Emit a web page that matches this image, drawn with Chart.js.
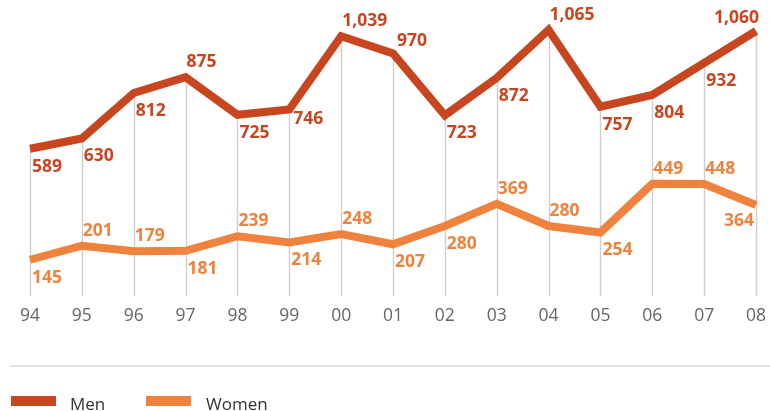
<!DOCTYPE html>
<html>
<head>
<meta charset="utf-8">
<script src="https://cdn.jsdelivr.net/npm/chart.js@4"></script>
<style>
  html, body { margin: 0; padding: 0; background: #fff; overflow: hidden; }
  #wrap { width: 770px; height: 411px; }
</style>
</head>
<body>
<div id="wrap"><canvas id="chart" width="770" height="411"></canvas></div>
<script>
//DATA
var years = ["94", "95", "96", "97", "98", "99", "00", "01", "02", "03", "04", "05", "06", "07", "08"];
var men = [589, 630, 812, 875, 725, 746, 1039, 970, 723, 872, 1065, 757, 804, 932, 1060];
var women = [145, 201, 179, 181, 239, 214, 248, 207, 280, 369, 280, 254, 449, 448, 364];

//COLORS
var menColor = "#c8461f";
var womenColor = "#ef833d";
var gridColor = "#d0d0d0";
var tickColor = "#666666";

// where each value label sits: b = below right, a = above right, r = right, ar = slightly above right, al = above left, bl = below left
var menPlace = ["b", "b", "b", "a", "b", "r", "a", "ar", "b", "b", "a", "b", "b", "b", "al"];
var womenPlace = ["b", "a", "a", "b", "a", "b", "a", "b", "b", "a", "a", "b", "a", "a", "bl"];

function fmt(v) {
  return v.toLocaleString("en-US");
}

// drop lines from the men point down to the axis
var dropLines = {
  id: "dropLines",
  beforeDatasetsDraw: function (chart) {
    var ctx = chart.ctx;
    var y = chart.scales.y;
    var x = chart.scales.x;
    ctx.save();
    ctx.strokeStyle = gridColor;
    ctx.lineWidth = 1.5;
    for (var i = 0; i < years.length; i++) {
      var px = Math.round(x.getPixelForValue(i)) + 0.5;
      ctx.beginPath();
      ctx.moveTo(px, y.getPixelForValue(men[i]));
      ctx.lineTo(px, chart.chartArea.bottom);
      ctx.stroke();
    }
    ctx.restore();
  }
};

// value labels
var valueLabels = {
  id: "valueLabels",
  afterDatasetsDraw: function (chart) {
    var ctx = chart.ctx;
    ctx.save();
    ctx.font = "bold 17.5px 'Open Sans'";
    ctx.textBaseline = "middle";
    var sets = [[men, menPlace, menColor, 0], [women, womenPlace, womenColor, 1]];
    sets.forEach(function (s) {
      var meta = chart.getDatasetMeta(s[3]);
      ctx.fillStyle = s[2];
      for (var i = 0; i < s[0].length; i++) {
        var p = meta.data[i];
        var place = s[1][i];
        var tx = p.x + 2, ty = p.y + 18;
        ctx.textAlign = "left";
        if (place == "a") { ty = p.y - 15; tx = p.x + 1; }
        if (place == "r") { tx = p.x + 4; ty = p.y + 10; }
        if (place == "ar") { tx = p.x + 4; ty = p.y - 12; }
        if (place == "al") { ctx.textAlign = "right"; tx = p.x + 3; ty = p.y - 13; }
        if (place == "bl") { ctx.textAlign = "right"; tx = p.x - 2; ty = p.y + 16; }
        ctx.fillText(fmt(s[0][i]), tx, ty);
      }
    });
    ctx.restore();
  }
};

// separator and legend
var bottomLegend = {
  id: "bottomLegend",
  afterDraw: function (chart) {
    var ctx = chart.ctx;
    ctx.save();
    ctx.strokeStyle = "#d9d9d9";
    ctx.lineWidth = 1.5;
    ctx.beginPath();
    ctx.moveTo(10, 366);
    ctx.lineTo(770, 366);
    ctx.stroke();

    ctx.font = "17px 'Open Sans'";
    ctx.textBaseline = "middle";
    ctx.textAlign = "left";
    var items = [[chart.data.datasets[0], 11, 70], [chart.data.datasets[1], 146, 206]];
    items.forEach(function (it) {
      ctx.fillStyle = it[0].borderColor;
      ctx.fillRect(it[1], 396, 45, 10);
      ctx.fillStyle = "#333333";
      ctx.fillText(it[0].label, it[2], 405);
    });
    ctx.restore();
  }
};

var data = {
  labels: years,
  datasets: [{
    label: "Men",
    data: men,
    borderColor: menColor,
    backgroundColor: menColor,
    borderWidth: 8,
    pointRadius: 0,
    tension: 0,
    borderJoinStyle: "miter"
  }, {
    label: "Women",
    data: women,
    borderColor: womenColor,
    backgroundColor: womenColor,
    borderWidth: 8,
    pointRadius: 0,
    tension: 0,
    borderJoinStyle: "miter"
  }]
};

const config = {
  type: "line",
  data: data,
  options: {
    responsive: false,
    animation: false,
    layout: {
      padding: { left: 30, right: 14, top: 21, bottom: 0 }
    },
    plugins: {
      legend: { display: false },
      tooltip: { enabled: false }
    },
    scales: {
      x: {
        offset: false,
        grid: { display: false, drawTicks: false },
        border: { display: false },
        ticks: {
          color: tickColor,
          padding: 10,
          font: { family: "'Open Sans'", size: 17.5 },
          maxRotation: 0,
          autoSkip: false
        },
        afterFit: function (scale) {
          scale.height = 115;
          scale.paddingLeft = 0;
          scale.paddingRight = 0;
        }
      },
      y: {
        display: false,
        min: 0,
        max: 1100
      }
    }
  },
  plugins: [dropLines, valueLabels, bottomLegend]
};

var lineChart = new Chart(document.getElementById("chart"), config);
</script>
</body>
</html>
